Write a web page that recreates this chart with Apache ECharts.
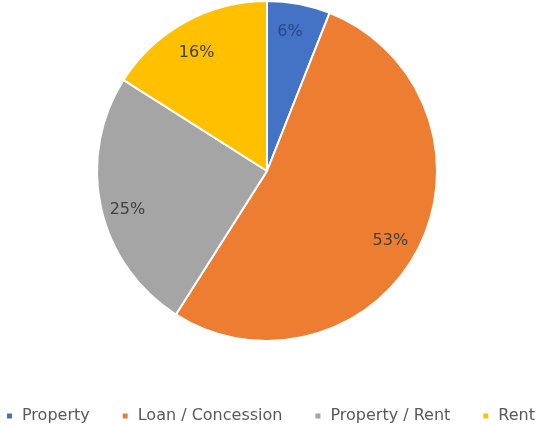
<!DOCTYPE html>
<html>
<head>
<meta charset="utf-8">
<script src="https://cdn.jsdelivr.net/npm/echarts@6/dist/echarts.min.js"></script>
<style>
html,body{margin:0;padding:0;background:#fff;}
#chart{width:540px;height:427px;}
</style>
</head>
<body>
<div id="chart"></div>
<script>
const categories = ['Property', 'Loan / Concession', 'Property / Rent', 'Rent'];
const values = [6, 53, 25, 16];
const colors = ['#4472C4', '#ED7D31', '#A5A5A5', '#FFC000'];
const labelColors = ['#2a4785', '#404040', '#404040', '#404040'];
const labelOffsets = [[-4, 2], [-5, 4], [1, 7], [-1, 8]];

const chart = echarts.init(document.getElementById('chart'), null, {renderer: 'canvas'});
const data = categories.map((c, i) => ({name: c, value: values[i], itemStyle: {color: colors[i]}}));
const labelData = categories.map((c, i) => ({
  name: c, value: values[i],
  label: {color: labelColors[i], offset: labelOffsets[i]}
}));
const center = [267, 171];
const R = 170;
chart.setOption({
  animation: false,
  backgroundColor: '#fff',
  legend: {
    top: 401,
    left: 'center',
    icon: 'rect',
    itemWidth: 7,
    itemHeight: 7,
    itemGap: 31,
    textStyle: {fontFamily: 'DejaVu Sans', fontSize: 16, lineHeight: 20, color: '#595959', padding: [0, 0, 0, 4]},
    data: categories
  },
  series: [
    {
      type: 'pie',
      center: center,
      radius: [0, R],
      startAngle: 90,
      clockwise: true,
      data: data,
      itemStyle: {borderColor: '#fff', borderWidth: 2},
      label: {show: false},
      labelLine: {show: false},
      silent: true
    },
    {
      type: 'pie',
      center: center,
      radius: [112, R],
      startAngle: 90,
      clockwise: true,
      data: labelData,
      itemStyle: {color: 'rgba(0,0,0,0)'},
      label: {
        show: true,
        position: 'inside',
        formatter: '{d}%',
        fontFamily: 'DejaVu Sans',
        fontSize: 16,
        color: '#404040'
      },
      labelLine: {show: false},
      legendHoverLink: false,
      silent: true
    }
  ]
});
</script>
</body>
</html>
